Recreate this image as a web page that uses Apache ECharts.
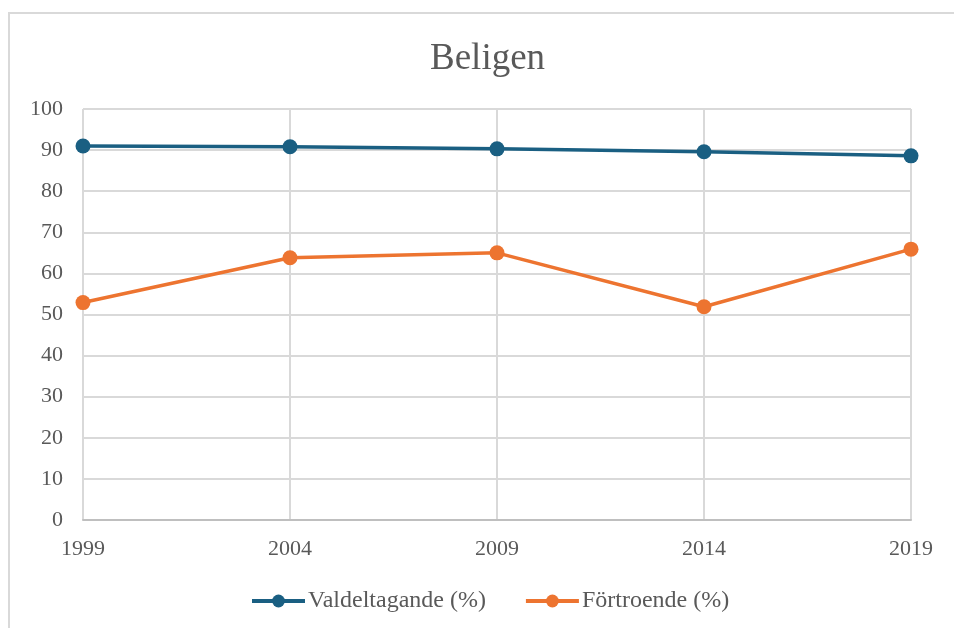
<!DOCTYPE html>
<html><head><meta charset="utf-8">
<script src="https://cdn.jsdelivr.net/npm/echarts@6/dist/echarts.min.js"></script>
<style>html,body{margin:0;padding:0;background:#fff}#c{width:954px;height:628px}</style>
</head><body><div id="c"></div>
<script>
const title = 'Beligen';
const years = ['1999', '2004', '2009', '2014', '2019'];
const valdeltagande = [91.0, 90.8, 90.3, 89.6, 88.6];
const fortroende = [52.9, 63.8, 65.0, 51.9, 65.9];
const seriesNames = ['Valdeltagande (%)', 'Förtroende (%)'];
const colors = ['#1a5f82', '#ed7430'];

const font = "'Liberation Serif','Times New Roman',serif";
const chart = echarts.init(document.getElementById('c'), null, {renderer: 'canvas'});
chart.setOption({
  animation: false,
  color: colors,
  graphic: [{type: 'rect', shape: {x: 9, y: 13, width: 1200, height: 900}, style: {fill: 'none', stroke: '#d9d9d9', lineWidth: 2}, silent: true}],
  title: {text: title, left: 430, top: 41, padding: 0, textStyle: {fontFamily: font, fontSize: 37, fontWeight: 'normal', color: '#595959'}},
  grid: {left: 83, right: 43, top: 109, bottom: 108, containLabel: false},
  legend: {bottom: 10, left: 245, itemWidth: 53, itemHeight: 16, itemGap: 38,
    lineStyle: {width: 4},
    textStyle: {fontFamily: font, fontSize: 24, color: '#595959', padding: [0, 0, 0, -2]},
    data: seriesNames},
  xAxis: {type: 'category', data: years, boundaryGap: false,
    axisLine: {lineStyle: {color: '#bfbfbf', width: 2}}, axisTick: {show: false},
    axisLabel: {fontFamily: font, fontSize: 22, color: '#595959', margin: 18},
    splitLine: {show: true, lineStyle: {color: '#d9d9d9', width: 2}}},
  yAxis: {type: 'value', min: 0, max: 100, interval: 10,
    axisLine: {show: false}, axisTick: {show: false},
    axisLabel: {fontFamily: font, fontSize: 22, color: '#595959', margin: 20},
    splitLine: {lineStyle: {color: '#d9d9d9', width: 2}}},
  series: [
    {name: seriesNames[0], type: 'line', data: valdeltagande, symbol: 'circle', symbolSize: 15, lineStyle: {width: 3.5}},
    {name: seriesNames[1], type: 'line', data: fortroende, symbol: 'circle', symbolSize: 15, lineStyle: {width: 3.5}}
  ]
});
</script></body></html>
